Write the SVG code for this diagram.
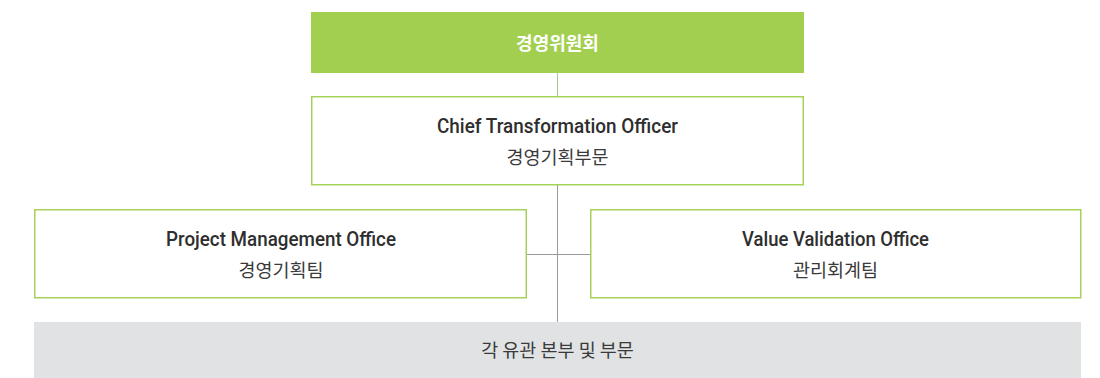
<svg xmlns="http://www.w3.org/2000/svg" width="1100" height="378" viewBox="0 0 1100 378">
<style>
.box{fill:#ffffff;stroke:#a6d25a;stroke-width:1.5}
.en{font-family:Roboto,"Noto Sans CJK KR",sans-serif;font-size:20.5px;font-weight:500;fill:#2e2e2e;text-anchor:middle}
.ko{font-family:"Noto Sans CJK KR",sans-serif;font-size:18.5px;fill:#3a3a3a;text-anchor:middle}
.line{stroke:#9a9a9a;stroke-width:1;fill:none}
</style>
<g id="connectors">
<line x1="557.5" y1="73" x2="557.5" y2="96" stroke="#a6c98a" stroke-width="1"/>
<line class="line" x1="557.5" y1="185" x2="557.5" y2="322"/>
<line class="line" x1="526" y1="254.5" x2="590" y2="254.5"/>
</g>
<g id="committee">
<rect x="311" y="12" width="493" height="61" fill="#a2cf50"/>
<text x="557.5" y="50" font-family="'Noto Sans CJK KR',sans-serif" font-size="18" font-weight="bold" fill="#ffffff" text-anchor="middle">경영위원회</text>
</g>
<g id="cto">
<rect class="box" x="311.75" y="96.75" width="491.5" height="88"/>
<text class="en" x="557.5" y="133.3" textLength="241" lengthAdjust="spacingAndGlyphs">Chief Transformation Officer</text>
<text class="ko" x="557.5" y="164">경영기획부문</text>
</g>
<g id="pmo">
<rect class="box" x="34.75" y="209.75" width="491.5" height="88"/>
<text class="en" x="281" y="246.3" textLength="230" lengthAdjust="spacingAndGlyphs">Project Management Office</text>
<text class="ko" x="281" y="277">경영기획팀</text>
</g>
<g id="vvo">
<rect class="box" x="590.75" y="209.75" width="490" height="88"/>
<text class="en" x="835.5" y="246.3" textLength="187" lengthAdjust="spacingAndGlyphs">Value Validation Office</text>
<text class="ko" x="835.5" y="277">관리회계팀</text>
</g>
<g id="divisions">
<rect x="34" y="322" width="1047" height="56" fill="#e1e2e4"/>
<text class="ko" x="557.5" y="357">각 유관 본부 및 부문</text>
</g>
</svg>
